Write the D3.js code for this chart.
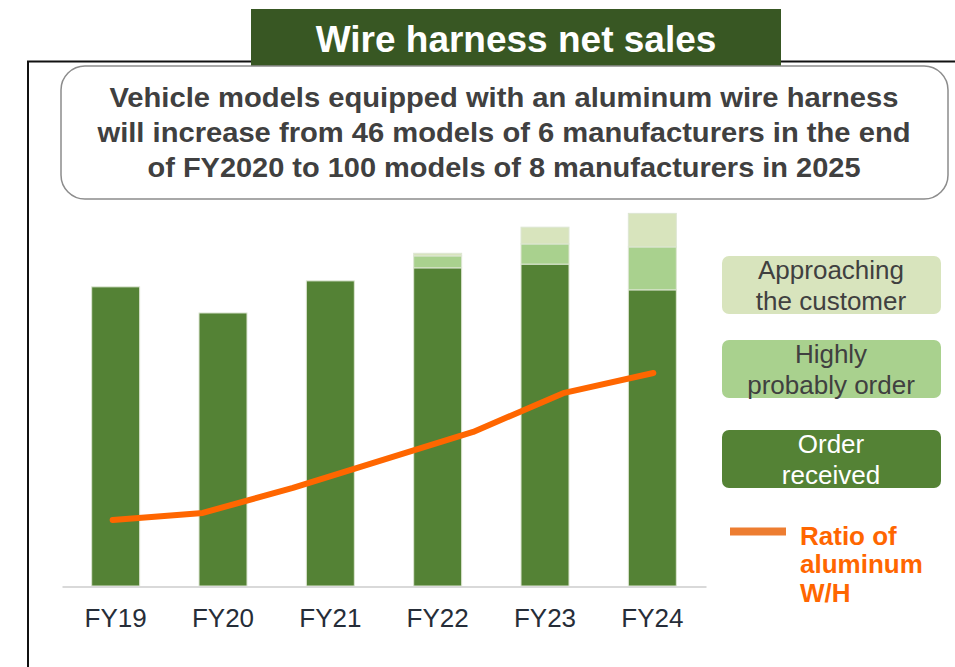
<!DOCTYPE html>
<html lang="en">
  <head>
    <meta charset="utf-8">
    <title>Wire harness net sales</title>
    <script src="https://d3js.org/d3.v7.min.js"></script>
    <style>
      body { margin: 0; background: white; }
      text { font-family: "Liberation Sans", Arial, sans-serif; }
    </style>
  </head>
  <body>
    <svg width="955" height="667"></svg>
    <script>
      // chart values (index units, FY24 total = 100)
      var years = ["FY19", "FY20", "FY21", "FY22", "FY23", "FY24"];
      var orderReceived = [80.2, 73.2, 81.8, 85.3, 86.3, 79.4];
      var highlyProbable = [0, 0, 0, 3.2, 5.4, 11.5];
      var approaching = [0, 0, 0, 0.7, 4.5, 9.0];
      // ratio of aluminum W/H (same index units, 7 points)
      var ratio = [17.7, 19.6, 26.3, 33.8, 41.3, 51.7, 57.1];
      var seriesNames = ["Order received", "Highly probably order", "Approaching the customer"];
      var seriesColors = ["#548235", "#a9d18e", "#d8e4bd"];

      var svg = d3.select("svg");

      // frame lines
      svg.append("path").attr("d", "M28,667 V61.5 H955")
        .attr("fill", "none").attr("stroke", "#111").attr("stroke-width", 2);

      // title tab
      svg.append("rect").attr("x", 251).attr("y", 9).attr("width", 530).attr("height", 60)
        .attr("fill", "#385723");
      svg.append("text").attr("x", 516).attr("y", 52).attr("text-anchor", "middle")
        .attr("fill", "white").attr("font-weight", "bold").attr("font-size", 37)
        .text("Wire harness net sales");

      // message box
      svg.append("rect").attr("x", 61).attr("y", 66).attr("width", 887).attr("height", 133)
        .attr("rx", 24).attr("fill", "white").attr("stroke", "#8c8c8c").attr("stroke-width", 1.5);
      var msg = ["Vehicle models equipped with an aluminum wire harness",
        "will increase from 46 models of 6 manufacturers in the end",
        "of FY2020 to 100 models of 8 manufacturers in 2025"];
      var msgWidths = [789, 813, 713];
      svg.append("g").selectAll("text").data(msg).join("text")
        .attr("x", 504).attr("y", function(d, i) { return 107 + i * 35; })
        .attr("text-anchor", "middle").attr("fill", "#404040")
        .attr("font-weight", "bold").attr("font-size", 28.5)
        .attr("textLength", function(d, i) { return msgWidths[i]; })
        .attr("lengthAdjust", "spacingAndGlyphs")
        .text(function(d) { return d; });

      // scales
      var x = d3.scaleBand().domain(years).range([62, 706])
        .paddingInner(0.553).paddingOuter(0.2765);
      var y = d3.scaleLinear().domain([0, 100]).range([586, 213]);

      // stacked bars
      var table = years.map(function(yr, i) {
        return { year: yr, a: orderReceived[i], b: highlyProbable[i], c: approaching[i] };
      });
      var stack = d3.stack().keys(["a", "b", "c"])(table);
      svg.append("g").selectAll("g").data(stack).join("g")
        .attr("fill", function(d, i) { return seriesColors[i]; })
        .selectAll("rect").data(function(d) { return d; }).join("rect")
        .attr("x", function(d) { return x(d.data.year); })
        .attr("width", x.bandwidth())
        .attr("y", function(d) { return y(d[1]); })
        .attr("height", function(d) { return y(d[0]) - y(d[1]); })
        .attr("stroke", "#dde6d3").attr("stroke-width", 1)
        .style("display", function(d) { return d[1] - d[0] > 0 ? null : "none"; });

      // category axis
      var xAxis = svg.append("g").attr("transform", "translate(0,586.5)")
        .call(d3.axisBottom(x).tickSize(0).tickPadding(22));
      xAxis.select(".domain").attr("stroke", "#d9d9d9").attr("stroke-width", 2);
      xAxis.selectAll("text").attr("font-size", 26).attr("fill", "#262d38")
        .attr("font-family", "Liberation Sans, Arial, sans-serif");

      // ratio line
      var xr = d3.scaleLinear().domain([0, ratio.length - 1])
        .range([x("FY19") + x.bandwidth() / 2 - 3, x("FY24") + x.bandwidth() / 2 + 1]);
      svg.append("path").datum(ratio)
        .attr("fill", "none").attr("stroke", "#ff6600").attr("stroke-width", 6)
        .attr("stroke-linecap", "round").attr("stroke-linejoin", "round")
        .attr("d", d3.line().x(function(d, i) { return xr(i); }).y(function(d) { return y(d); }));

      // legend boxes
      var legendRows = [
        { lines: ["Approaching", "the customer"], color: seriesColors[2], fill: "#404040", top: 256 },
        { lines: ["Highly", "probably order"], color: seriesColors[1], fill: "#404040", top: 340 },
        { lines: ["Order", "received"], color: seriesColors[0], fill: "white", top: 430 }
      ];
      var lg = svg.append("g").selectAll("g").data(legendRows).join("g");
      lg.append("rect").attr("x", 722).attr("y", function(d) { return d.top; })
        .attr("width", 219).attr("height", 58).attr("rx", 7)
        .attr("fill", function(d) { return d.color; });
      lg.each(function(d) {
        d3.select(this).selectAll("text").data(d.lines).join("text")
          .attr("x", 831).attr("y", function(t, i) { return d.top + 23 + i * 31; })
          .attr("text-anchor", "middle").attr("font-size", 26)
          .attr("fill", d.fill).text(function(t) { return t; });
      });

      // ratio legend
      svg.append("line").attr("x1", 730).attr("x2", 786).attr("y1", 531.5).attr("y2", 531.5)
        .attr("stroke", "#ed7d31").attr("stroke-width", 8);
      svg.append("g").selectAll("text").data(["Ratio of", "aluminum", "W/H"]).join("text")
        .attr("x", 800).attr("y", function(d, i) { return 545 + i * 28.3; })
        .attr("font-size", 26).attr("font-weight", "bold").attr("fill", "#ff6600")
        .text(function(d) { return d; });
    </script>
  </body>
</html>
